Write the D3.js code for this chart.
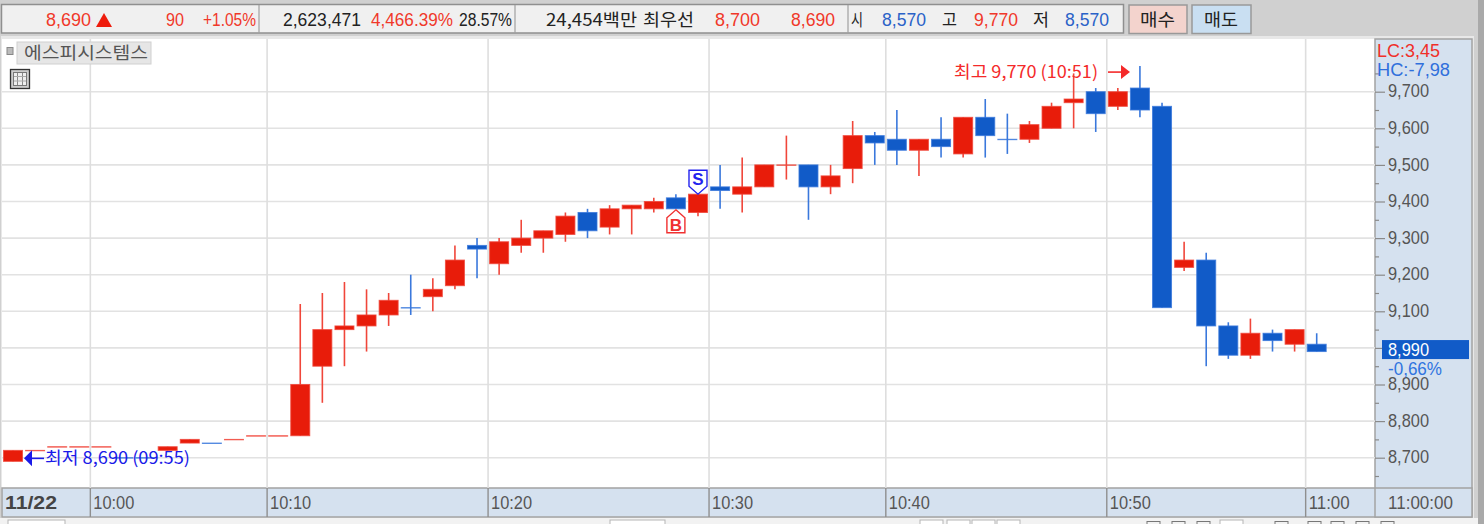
<!DOCTYPE html>
<html>
<head>
<meta charset="utf-8">
<script src="https://cdn.jsdelivr.net/npm/d3@7"></script>
<style>
	html, body { margin: 0; padding: 0; background: #d0d0d0; overflow: hidden; }
	svg { display: block; }
	text { font-family: "Liberation Sans Narrow", "Liberation Sans", sans-serif; }
	.kr { font-family: "Noto Sans CJK KR", sans-serif; }
</style>
</head>
<body>
<svg width="1484" height="524"></svg>
<script>
// one entry per traded minute, minutes without trades are not on the axis
const times = ['09:55','09:56','09:57','09:58','10:00','10:01','10:02','10:03','10:04','10:05',
	'10:07','10:08','10:10','10:11','10:12','10:13','10:14','10:15','10:16','10:17',
	'10:18','10:19','10:20','10:21','10:22','10:23','10:24','10:25','10:26','10:27',
	'10:28','10:29','10:30','10:31','10:32','10:33','10:34','10:36','10:37','10:38',
	'10:40','10:41','10:42','10:43','10:44','10:45','10:46','10:47','10:48','10:49',
	'10:50','10:51','10:52','10:53','10:54','10:55','10:56','10:57','10:58','11:00']

const opens = [8690,8720,8730,8730,8730,8700,8700,8720,8740,8740,
	8750,8760,8760,8760,8950,9050,9060,9090,9110,9140,
	9170,9280,9230,9280,9300,9310,9370,9330,9380,9380,
	9410,9370,9440,9420,9440,9500,9500,9440,9490,9580,
	9570,9540,9570,9530,9630,9570,9570,9600,9670,9700,
	9660,9710,9660,9220,9240,9060,8980,9040,9010,9010]
const highs = [8720,8720,8730,8730,8730,8700,8700,8730,8750,8740,
	8750,8760,8760,9120,9150,9180,9160,9150,9200,9190,
	9280,9300,9300,9350,9320,9370,9380,9390,9390,9410,
	9420,9420,9500,9520,9500,9580,9500,9500,9620,9590,
	9650,9570,9630,9630,9680,9640,9620,9670,9750,9710,
	9710,9770,9670,9290,9260,9070,9080,9050,9050,9040]
const lows = [8690,8720,8730,8730,8730,8700,8700,8720,8740,8740,
	8750,8760,8760,8760,8850,8950,8990,9060,9090,9100,
	9160,9190,9200,9260,9260,9290,9300,9310,9310,9370,
	9380,9360,9380,9370,9440,9460,9350,9420,9450,9500,
	9500,9470,9520,9520,9520,9530,9560,9600,9600,9590,
	9650,9630,9110,9210,8950,8970,8970,8990,8990,8990]
const closes = [8720,8720,8730,8730,8730,8700,8700,8730,8750,8740,
	8750,8760,8760,8900,9050,9060,9090,9130,9110,9160,
	9240,9270,9290,9300,9320,9360,9320,9380,9390,9400,
	9380,9420,9430,9440,9500,9500,9440,9470,9580,9560,
	9540,9570,9550,9630,9580,9570,9610,9660,9680,9640,
	9700,9650,9110,9240,9060,8980,9040,9020,9050,8990]

const timeTicks = ['10:00','10:10','10:20','10:30','10:40','10:50','11:00']
const priceTicks = [8700,8800,8900,9000,9100,9200,9300,9400,9500,9600,9700]
const minorTicks = [8650,8750,8850,8950,9050,9150,9250,9350,9450,9550,9650,9750]

const RED = '#e81c0a'
const BLUE = '#115bc8'
const WICK_RED = '#f0463a'
const WICK_BLUE = '#3a78dc'

const svg = d3.select('svg')

const plot = {left: 2, right: 1375, top: 39, bottom: 488}

const x = d3.scaleBand()
	.domain(times)
	.range([1.95, 1327.75])

// 36.6px per 100 won
const y = d3.scaleLinear()
	.domain([8700, 9700])
	.range([457.7, 91.7])

// text squeezed into a given span, the source uses a narrow bitmap font
const label = (sel, str, x0, x1, yc, color, opts = {}) => {
	const t = sel.append('text')
		.attr('x', x0)
		.attr('y', yc)
		.attr('dy', '0.36em')
		.attr('font-size', opts.size || 18)
		.attr('font-weight', opts.weight || 'normal')
		.attr('fill', color)
		.attr('textLength', x1 - x0)
		.attr('lengthAdjust', 'spacingAndGlyphs')
		.text(str)
	if (opts.kr) t.attr('class', 'kr')
	return t
}

// window chrome
svg.append('rect').attr('width', 1484).attr('height', 524).attr('fill', '#d0d0d0')
svg.append('rect').attr('x', 1478).attr('width', 6).attr('height', 524).attr('fill', '#a9a9a9')
svg.append('rect').attr('y', 518).attr('width', 1478).attr('height', 6).attr('fill', '#f2f2f2')
svg.append('rect').attr('x', 1).attr('y', 36).attr('width', 1473).attr('height', 482)
	.attr('fill', '#e8e8e8')

// top info bar
const bar = svg.append('g')
bar.append('rect').attr('x', 1.5).attr('y', 4.5).attr('width', 1122).attr('height', 28.5)
	.attr('fill', '#f0f0f0').attr('stroke', '#8f8f8f').attr('stroke-width', 1.5)
;[259, 515, 848].forEach(d => {
	bar.append('line').attr('x1', d).attr('x2', d).attr('y1', 5).attr('y2', 33)
		.attr('stroke', '#a0a0a0').attr('stroke-width', 1.2)
})
const barRed = '#f0382a'
const barBlue = '#2a62c8'
const barDark = '#222'
label(bar, '8,690', 46, 91, 20, barRed)
bar.append('path').attr('d', 'M96,27 L104,13 L112,27 Z').attr('fill', '#ee1c0c')
label(bar, '90', 166, 184, 20, barRed)
label(bar, '+1.05%', 203, 256, 20, barRed)
label(bar, '2,623,471', 283, 361, 20, barDark)
label(bar, '4,466.39%', 371, 453, 20, barRed)
label(bar, '28.57%', 459, 512, 20, barDark)
label(bar, '24,454백만', 546, 637, 20, barDark, {size: 17, kr: true})
label(bar, '최우선', 643, 694, 20, barDark, {size: 17, kr: true})
label(bar, '8,700', 715, 760, 20, barRed)
label(bar, '8,690', 791, 835, 20, barRed)
label(bar, '시', 851, 863, 20, barDark, {size: 17, kr: true})
label(bar, '8,570', 882, 926, 20, barBlue)
label(bar, '고', 942, 957, 20, barDark, {size: 17, kr: true})
label(bar, '9,770', 974, 1018, 20, barRed)
label(bar, '저', 1033, 1049, 20, barDark, {size: 17, kr: true})
label(bar, '8,570', 1065, 1109, 20, barBlue)

bar.append('rect').attr('x', 1129).attr('y', 5).attr('width', 58).attr('height', 28.5)
	.attr('fill', '#f3d3cd').attr('stroke', '#999').attr('stroke-width', 1.5)
label(bar, '매수', 1140, 1175, 20, barDark, {size: 17, kr: true})
bar.append('rect').attr('x', 1192).attr('y', 5).attr('width', 59).attr('height', 28.5)
	.attr('fill', '#c9dff2').attr('stroke', '#999').attr('stroke-width', 1.5)
label(bar, '매도', 1204, 1238, 20, barDark, {size: 17, kr: true})

// plot area and side panels
svg.append('rect')
	.attr('x', plot.left).attr('y', plot.top)
	.attr('width', plot.right - plot.left).attr('height', plot.bottom - plot.top)
	.attr('fill', 'white')
svg.append('rect').attr('x', plot.right).attr('y', plot.top)
	.attr('width', 97).attr('height', 478)
	.attr('fill', '#d5e1ef').attr('stroke', '#a3a3a3').attr('stroke-width', 1.5)
svg.append('rect').attr('x', plot.left).attr('y', plot.bottom)
	.attr('width', 1470).attr('height', 29)
	.attr('fill', '#d5e1ef').attr('stroke', '#a3a3a3').attr('stroke-width', 1.5)

// grid
const grid = svg.append('g')
grid.selectAll('.hgrid')
	.data(priceTicks)
	.enter()
	.append('line')
	.attr('class', 'hgrid')
	.attr('x1', plot.left).attr('x2', plot.right)
	.attr('y1', d => y(d)).attr('y2', d => y(d))
	.attr('stroke', '#e2e2e2').attr('stroke-width', 1.6)
grid.selectAll('.vgrid')
	.data(timeTicks)
	.enter()
	.append('line')
	.attr('class', 'vgrid')
	.attr('x1', d => x(d)).attr('x2', d => x(d))
	.attr('y1', plot.top).attr('y2', plot.bottom)
	.attr('stroke', '#dedede').attr('stroke-width', 1.6)

// price axis
const yAxis = d3.axisRight(y)
	.tickValues(priceTicks)
	.tickSize(10)
	.tickPadding(3)
	.tickFormat(d3.format(','))
const yG = svg.append('g')
	.attr('transform', `translate(${plot.right}, 0)`)
	.call(yAxis)
yG.select('.domain').remove()
yG.selectAll('line').attr('stroke', '#8a8a8a').attr('stroke-width', 1.2)
yG.selectAll('text')
	.attr('font-size', 19).attr('fill', '#555')
	.attr('dy', '0.27em')
	.attr('textLength', 41).attr('lengthAdjust', 'spacingAndGlyphs')

const yMinor = d3.axisRight(y).tickValues(minorTicks).tickSize(4).tickFormat('')
const yMinorG = svg.append('g')
	.attr('transform', `translate(${plot.right}, 0)`)
	.call(yMinor)
yMinorG.select('.domain').remove()
yMinorG.selectAll('line').attr('stroke', '#8a8a8a').attr('stroke-width', 1.2)

// time axis, tick sits on the left edge of the band
const xAxis = d3.axisBottom(x)
	.tickValues(timeTicks)
	.tickSize(29)
const xG = svg.append('g')
	.attr('transform', `translate(0, ${plot.bottom})`)
	.call(xAxis)
xG.select('.domain').remove()
xG.selectAll('.tick').attr('transform', d => `translate(${x(d)}, 0)`)
xG.selectAll('line').attr('stroke', '#8f8f8f').attr('stroke-width', 1.4)
xG.selectAll('text')
	.attr('text-anchor', 'start')
	.attr('x', 3)
	.attr('y', 0)
	.attr('dy', '21px')
	.attr('font-size', 19)
	.attr('fill', '#555')
	.attr('textLength', 41)
	.attr('lengthAdjust', 'spacingAndGlyphs')
svg.append('line').attr('x1', plot.right).attr('x2', plot.right)
	.attr('y1', plot.bottom).attr('y2', 517)
	.attr('stroke', '#a3a3a3').attr('stroke-width', 1.5)
label(svg, '11/22', 5, 57, 502, '#444', {weight: 'bold', size: 19})
label(svg, '11:00:00', 1388, 1453, 502, '#555', {size: 19})

// candles
const data = times.map((t, i) => ({t, o: opens[i], h: highs[i], l: lows[i], c: closes[i]}))
data.forEach((d, i) => {
	const prev = i > 0 ? data[i - 1] : null
	if (d.c !== d.o) d.down = d.c < d.o
	else if (!prev || d.c === prev.c) d.down = prev ? prev.down : false
	else d.down = d.c < prev.c
})

const center = d => x(d.t) + x.bandwidth() / 2
const bodyWidth = 19

const candles = svg.append('g')
candles.selectAll('.wick')
	.data(data)
	.enter()
	.append('line')
	.attr('class', 'wick')
	.attr('x1', center).attr('x2', center)
	.attr('y1', d => y(d.h)).attr('y2', d => y(d.l))
	.attr('stroke', d => d.down ? WICK_BLUE : WICK_RED)
	.attr('stroke-width', 1.6)
candles.selectAll('.body')
	.data(data)
	.enter()
	.append('rect')
	.attr('class', 'body')
	.attr('x', d => center(d) - bodyWidth / 2)
	.attr('y', d => y(Math.max(d.o, d.c)))
	.attr('width', bodyWidth)
	.attr('height', d => Math.max(0.4, Math.abs(y(d.o) - y(d.c))))
	.attr('fill', d => d.o === d.c ? (d.down ? WICK_BLUE : WICK_RED) : (d.down ? BLUE : RED))
	.attr('stroke', d => d.down ? WICK_BLUE : WICK_RED)
	.attr('stroke-opacity', 0.8)
	.attr('stroke-width', 1)

// name tag and table icon
svg.append('rect').attr('x', 7).attr('y', 47.5).attr('width', 6).attr('height', 7)
	.attr('fill', '#bbb').attr('stroke', '#888')
svg.append('rect').attr('x', 17).attr('y', 42).attr('width', 134).attr('height', 22)
	.attr('fill', '#e6e6e6').attr('stroke', '#d0d0d0')
label(svg, '에스피시스템스', 24, 148, 53, '#555', {size: 17, kr: true})
const icon = svg.append('g')
icon.append('rect').attr('x', 10.5).attr('y', 69.5).attr('width', 19).attr('height', 19)
	.attr('fill', '#ccc').attr('stroke', '#333').attr('stroke-width', 1.3)
icon.append('rect').attr('x', 13.5).attr('y', 72.5).attr('width', 13).attr('height', 13)
	.attr('fill', '#eee').attr('stroke', '#777')
;[17.5, 22.5].forEach(d => {
	icon.append('line').attr('x1', d).attr('x2', d).attr('y1', 73).attr('y2', 85).attr('stroke', '#888')
})
;[76.5, 81].forEach(d => {
	icon.append('line').attr('x1', 14).attr('x2', 26).attr('y1', d).attr('y2', d).attr('stroke', '#aaa')
})

// S and B signals, hung on the candles they belong to
const sAt = data[31]
const sx = center(sAt)
const sy = y(sAt.h)
svg.append('path')
	.attr('d', `M${sx - 9},${sy - 24} H${sx + 9} V${sy - 8} L${sx},${sy} L${sx - 9},${sy - 8} Z`)
	.attr('fill', 'white').attr('stroke', '#2222ee').attr('stroke-width', 1.4)
svg.append('text').attr('x', sx).attr('y', sy - 9.5)
	.attr('text-anchor', 'middle').attr('font-size', 17).attr('font-weight', 'bold')
	.attr('fill', '#2222ee').text('S')

const bAt = data[30]
const bx = center(bAt)
const by = y(bAt.l)
svg.append('path')
	.attr('d', `M${bx},${by + 1} L${bx + 9},${by + 9} V${by + 24} H${bx - 9} V${by + 9} Z`)
	.attr('fill', 'white').attr('stroke', '#f03030').attr('stroke-width', 1.4)
svg.append('text').attr('x', bx).attr('y', by + 22)
	.attr('text-anchor', 'middle').attr('font-size', 17).attr('font-weight', 'bold')
	.attr('fill', '#f03030').text('B')

// high and low notes
const hiY = y(9770) + 6
const hiColor = '#f42a2a'
label(svg, '최고 9,770 (10:51)', 954, 1098, hiY, hiColor, {size: 17, kr: true})
svg.append('line').attr('x1', 1108).attr('x2', 1122).attr('y1', hiY).attr('y2', hiY)
	.attr('stroke', hiColor).attr('stroke-width', 1.6)
svg.append('path').attr('d', `M1121,${hiY - 7} L1130,${hiY} L1121,${hiY + 7} Z`).attr('fill', hiColor)

const loY = y(8690) - 3
const loColor = '#1a1ae8'
label(svg, '최저 8,690 (09:55)', 45, 190, loY, loColor, {size: 17, kr: true})
svg.append('line').attr('x1', 30).attr('x2', 44).attr('y1', loY).attr('y2', loY)
	.attr('stroke', loColor).attr('stroke-width', 1.6)
svg.append('path').attr('d', `M32,${loY - 8} L24,${loY} L32,${loY + 8} Z`).attr('fill', loColor)

// side panel readouts
label(svg, 'LC:3,45', 1377, 1440, 51, '#f0302a', {size: 18})
label(svg, 'HC:-7,98', 1377, 1450, 69.5, '#2f6fdc', {size: 18})

// current price tag
const last = data[data.length - 1]
svg.append('rect')
	.attr('x', 1382).attr('y', y(last.c) - 11.5)
	.attr('width', 87).attr('height', 19)
	.attr('fill', BLUE)
label(svg, d3.format(',')(last.c), 1388, 1429, y(last.c) - 2.5, 'white', {size: 19})
label(svg, '-0,66%', 1388, 1442, y(last.c) + 16.5, '#2f74e0', {size: 19})

// bottom strip hints
const strip = svg.append('g')
;[[8, 57], [610, 55], [920, 23], [947, 23], [972, 23], [997, 23], [1220, 23]].forEach(d => {
	strip.append('rect').attr('x', d[0]).attr('y', 520).attr('width', d[1]).attr('height', 6)
		.attr('fill', 'white').attr('stroke', '#b5b5b5')
})
;[1147, 1172, 1197, 1275, 1308, 1331, 1356, 1381].forEach(d => {
	strip.append('rect').attr('x', d).attr('y', 521.5).attr('width', 13).attr('height', 5)
		.attr('fill', 'none').attr('stroke', '#777')
})
</script>
</body>
</html>
